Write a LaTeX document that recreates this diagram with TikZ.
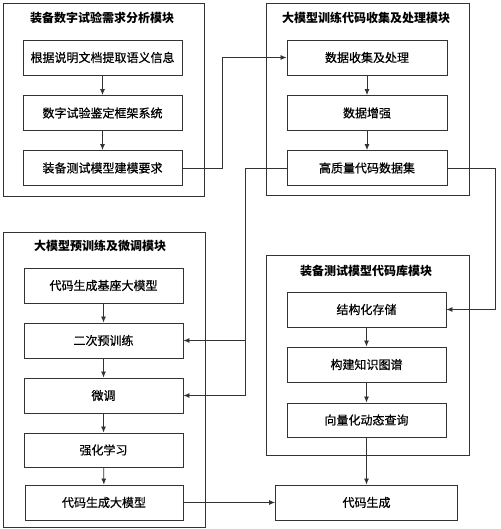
\documentclass[tikz,border=0pt]{standalone}
\usepackage{fontspec}
\setmainfont{Noto Sans CJK SC}
\newfontfamily\medf{Noto Sans CJK SC}[FakeBold=0.6]
\usetikzlibrary{arrows.meta}
\begin{document}
\begin{tikzpicture}[x=1pt,y=-1pt,
  frame/.style={draw=black!80, line width=0.9pt, inner sep=0pt},
  box/.style={draw=black!80, line width=0.9pt, inner sep=0pt, minimum height=35pt, font=\medf\fontsize{12}{14}\selectfont},
  title/.style={inner sep=0pt, font=\fontsize{12}{14}\selectfont\bfseries},
  arr/.style={draw=black!80, line width=0.8pt, -{Latex[length=6pt,width=5pt]}},
  ln/.style={draw=black!80, line width=0.8pt}]
\useasboundingbox (0,0) rectangle (500,529);
% module frames
\node[frame, minimum width=201pt, minimum height=193pt] (m1) at (103.5,99.5) {};
\node[frame, minimum width=203pt, minimum height=192pt] (m2) at (367.5,99) {};
\node[frame, minimum width=202pt, minimum height=295pt] (m3) at (104,379.5) {};
\node[frame, minimum width=203pt, minimum height=200pt] (m4) at (367.5,355) {};
% titles
\node[title] (t1) at (102,18) {装备数字试验需求分析模块};
\node[title] (t2) at (366,18) {大模型训练代码收集及处理模块};
\node[title] (t3) at (100,246) {大模型预训练及微调模块};
\node[title] (t4) at (366,271) {装备测试模型代码库模块};
% module 1
\node[box, minimum width=159pt] (a1) at (102.5,57.5) {根据说明文档提取语义信息};
\node[box, minimum width=159pt] (a2) at (102.5,113) {数字试验鉴定框架系统};
\node[box, minimum width=159pt] (a3) at (102.5,168) {装备测试模型建模要求};
% module 2
\node[box, minimum width=160pt] (b1) at (367,57.5) {数据收集及处理};
\node[box, minimum width=160pt] (b2) at (367,113) {数据增强};
\node[box, minimum width=160pt] (b3) at (367,168) {高质量代码数据集};
% module 3
\node[box, minimum width=159pt] (c1) at (103.5,285.5) {代码生成基座大模型};
\node[box, minimum width=159pt] (c2) at (103.5,340.5) {二次预训练};
\node[box, minimum width=159pt] (c3) at (103.5,395.5) {微调};
\node[box, minimum width=159pt, minimum height=34pt] (c4) at (103.5,450) {强化学习};
\node[box, minimum width=158pt] (c5) at (104,502.5) {代码生成大模型};
% module 4
\node[box, minimum width=159pt] (d1) at (366.5,309.5) {结构化存储};
\node[box, minimum width=159pt] (d2) at (366.5,364.5) {构建知识图谱};
\node[box, minimum width=159pt, minimum height=34pt] (d3) at (366.5,420) {向量化动态查询};
% output
\node[box, minimum width=182pt] (gen) at (366.5,502.5) {代码生成};
% vertical arrows
\draw[arr] (a1) -- (a2);
\draw[arr] (a2) -- (a3);
\draw[arr] (b1) -- (b2);
\draw[arr] (b2) -- (b3);
\draw[arr] (c1) -- (c2);
\draw[arr] (c2) -- (c3);
\draw[arr] (c3) -- (c4);
\draw[arr] (c4) -- (c5);
\draw[arr] (d1) -- (d2);
\draw[arr] (d2) -- (d3);
\draw[arr] (d3.south) -- (gen.north);
\draw[arr] (c5.east) -- (gen.west);
% cross-module connectors
\draw[arr] (a3.east) -- ++(40,0) |- (b1.west);
\coordinate (j) at (245,168);
\draw[ln] (b3.west) -- (j);
\draw[arr] (j) |- (c2.east);
\draw[arr] (j) |- (c3.east);
\draw[arr] (b3.east) -- ++(48,0) |- (d1.east);
\end{tikzpicture}
\end{document}
